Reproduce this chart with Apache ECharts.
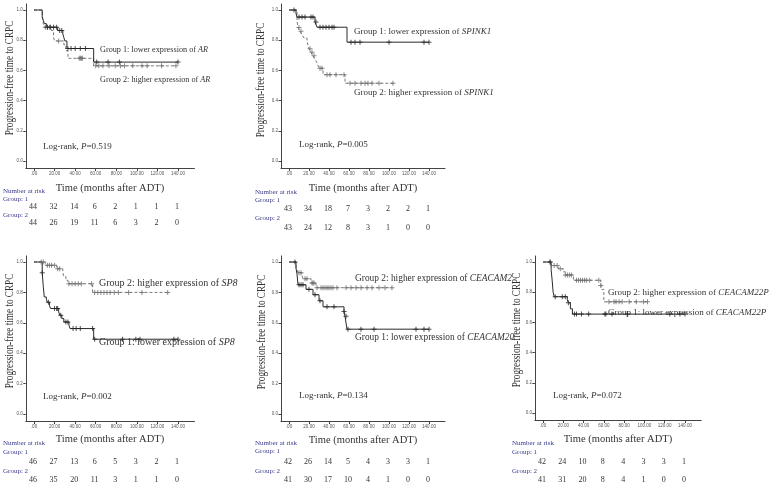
<!DOCTYPE html>
<html><head><meta charset="utf-8">
<script src="https://cdn.jsdelivr.net/npm/echarts@6/dist/echarts.min.js"></script>
<style>html,body{margin:0;padding:0;background:#fff}#c{width:770px;height:488px}</style>
</head><body><div id="c"></div>
<script>
// ---------- tick labels ----------
const xTickValues = [0, 20, 40, 60, 80, 100, 120, 140];
const xTickLabels = ['.00', '20.00', '40.00', '60.00', '80.00', '100.00', '120.00', '140.00'];
const yTickValues = [0, 0.2, 0.4, 0.6, 0.8, 1.0];
const yTickLabels = ['0.0', '0.2', '0.4', '0.6', '0.8', '1.0'];

const genes = ['AR', 'SPINK1', 'SP8', 'CEACAM20', 'CEACAM22P'];
const pValues = ['0.519', '0.005', '0.002', '0.134', '0.072'];

// ---------- Panel 1: AR ----------
const arG1Steps = [[0,1],[8,0.955],[9,0.932],[10,0.91],[12,0.886],[23,0.864],[28,0.841],[29,0.818],[30,0.795],[32,0.745],[58,0.655],[140,0.655]];
const arG1Censor = [13,16,19,22,25,27,33,36,40,45,50,61,72,83,140];
const arG2Steps = [[0,1],[8,0.955],[9,0.91],[10,0.886],[17,0.864],[19,0.818],[20,0.795],[29,0.77],[31,0.73],[33,0.68],[58,0.63],[138,0.63]];
const arG2Censor = [11,13,15,24,44,45,46,47,60,63,67,73,79,84,88,96,105,110,124,138];
const arRisk1 = [44,32,14,6,2,1,1,1];
const arRisk2 = [44,26,19,11,6,3,2,0];

// ---------- Panel 2: SPINK1 ----------
const spG1Steps = [[0,1],[7,0.977],[8,0.953],[26,0.92],[28,0.886],[58,0.787],[140,0.787]];
const spG1Censor = [5,10,13,16,22,24,27,31,34,37,40,43,45,62,66,71,100,135,140];
const spG2Steps = [[0,1],[8,0.93],[9,0.884],[11,0.86],[13,0.837],[15,0.814],[18,0.791],[19,0.768],[20,0.744],[22,0.72],[24,0.697],[26,0.674],[28,0.65],[30,0.614],[34,0.572],[56,0.515],[104,0.515]];
const spG2Censor = [10,12,21,23,25,31,33,38,41,47,55,61,66,72,76,79,83,90,104];
const spRisk1 = [43,34,18,7,3,2,2,1];
const spRisk2 = [43,24,12,8,3,1,0,0];

// ---------- Panel 3: SP8 ----------
const sp8G1Steps = [[0,1],[8,0.93],[9,0.84],[10,0.77],[12,0.755],[13,0.735],[15,0.715],[16,0.694],[24,0.672],[25,0.65],[27,0.628],[29,0.605],[34,0.583],[35,0.562],[58,0.492],[140,0.492]];
const sp8G1Censor = [8,14,20,22,23,26,31,33,38,41,45,57,59,86,99,103,136,140];
const sp8G2Steps = [[0,1],[11,0.978],[22,0.956],[28,0.93],[29,0.905],[31,0.88],[33,0.857],[57,0.80],[130,0.80]];
const sp8G2Censor = [7,9,13,15,17,20,23,25,34,37,40,43,46,56,59,62,65,68,71,74,78,82,92,105,130];
const sp8Risk1 = [46,27,13,6,5,3,2,1];
const sp8Risk2 = [46,35,20,11,3,1,1,0];

// ---------- Panel 4: CEACAM20 ----------
const c20G1Steps = [[0,1],[7,0.96],[8,0.92],[9,0.85],[17,0.82],[24,0.785],[30,0.745],[34,0.705],[55,0.675],[56,0.643],[58,0.558],[140,0.558]];
const c20G1Censor = [6,10,12,14,20,26,31,38,45,55,57,59,72,85,127,135,140];
const c20G2Steps = [[0,1],[7,0.96],[9,0.93],[13,0.91],[14,0.89],[22,0.862],[27,0.831],[103,0.831]];
const c20G2Censor = [10,12,16,18,23,24,25,28,32,34,36,38,40,42,44,48,57,62,67,72,78,83,90,96,103];
const c20Risk1 = [42,26,14,5,4,3,3,1];
const c20Risk2 = [41,30,17,10,4,1,0,0];

// ---------- Panel 5: CEACAM22P ----------
const c22G1Steps = [[0,1],[8,0.95],[9,0.88],[10,0.80],[11,0.77],[24,0.75],[25,0.73],[27,0.69],[29,0.655],[140,0.655]];
const c22G1Censor = [7,12,19,22,25,31,33,38,45,61,62,68,83,125,135,140];
const c22G2Steps = [[0,1],[8,0.976],[15,0.955],[20,0.935],[22,0.914],[30,0.879],[57,0.845],[58,0.818],[60,0.736],[103,0.736]];
const c22G2Censor = [7,11,14,17,22,24,26,28,33,35,37,39,41,43,46,55,57,65,70,72,75,78,85,92,99,103];
const c22Risk1 = [42,24,10,8,4,3,3,1];
const c22Risk2 = [41,31,20,8,4,1,0,0];

const panelData = [
  {g1: arG1Steps, c1: arG1Censor, g2: arG2Steps, c2: arG2Censor, r1: arRisk1, r2: arRisk2},
  {g1: spG1Steps, c1: spG1Censor, g2: spG2Steps, c2: spG2Censor, r1: spRisk1, r2: spRisk2},
  {g1: sp8G1Steps, c1: sp8G1Censor, g2: sp8G2Steps, c2: sp8G2Censor, r1: sp8Risk1, r2: sp8Risk2},
  {g1: c20G1Steps, c1: c20G1Censor, g2: c20G2Steps, c2: c20G2Censor, r1: c20Risk1, r2: c20Risk2},
  {g1: c22G1Steps, c1: c22G1Censor, g2: c22G2Steps, c2: c22G2Censor, r1: c22Risk1, r2: c22Risk2}
];

// ---------- layout (pixels) ----------
const layouts = [
  {x0:34, x140:178, y1:10, y0:161, title:[10,78], g1:[100,50], g2:[100,80], lr:[43,147], time:[110,188], nar:[3,191], gl1:199, r1:207, gl2:215, r2:223, gfs:8.2},
  {x0:289, x140:429, y1:10, y0:161, title:[261,80], g1:[354,32], g2:[354,93], lr:[299,145], time:[363,188], nar:[255,192], gl1:200, r1:209, gl2:218, r2:228, gfs:9},
  {x0:34, x140:178, y1:262, y0:414, title:[10,331], g1:[99,342], g2:[99,283], lr:[43,397], time:[110,439], nar:[3,443], gl1:452, r1:462, gl2:471, r2:480, gfs:10},
  {x0:289, x140:429, y1:262, y0:414, title:[262,332], g1:[355,338], g2:[355,279], lr:[299,396], time:[363,440], nar:[255,443], gl1:451, r1:462, gl2:471, r2:480, gfs:9.4, clip:516},
  {x0:543, x140:685, y1:262, y0:413, title:[517,330], g1:[608,313], g2:[608,293], lr:[553,396], time:[618,439], nar:[512,443], gl1:452, r1:462, gl2:471, r2:480, gfs:9}
];
const XMIN = -8, XMAX = 156, YMIN = -0.05, YMAX = 1.04;
const SERIF = 'Liberation Serif';
const SANS = 'Liberation Sans';
const PLUS = 'path://M2,0H3V2H5V3H3V5H2V3H0V2H2Z';

function survAt(steps, t) {
  let s = 1;
  for (const [tt, ss] of steps) { if (tt <= t) s = ss; else break; }
  return s;
}

const grids = [], xAxes = [], yAxes = [], series = [], graphics = [];

layouts.forEach((L, i) => {
  const sx = (L.x140 - L.x0) / 140;
  const sy = L.y0 - L.y1;
  grids.push({
    left: L.x0 + XMIN * sx, width: (XMAX - XMIN) * sx,
    top: L.y1 - (YMAX - 1) * sy, height: (YMAX - YMIN) * sy
  });
  xAxes.push({
    type: 'value', gridIndex: i, min: XMIN, max: XMAX,
    axisLine: {show: true, onZero: false, lineStyle: {color: '#444', width: 1}},
    axisTick: {show: true, customValues: xTickValues, length: 2.5, lineStyle: {color: '#444'}},
    axisLabel: {customValues: xTickValues, formatter: v => xTickLabels[xTickValues.indexOf(v)],
      fontSize: 4.5, color: '#555', fontFamily: SANS, margin: 3},
    splitLine: {show: false}
  });
  yAxes.push({
    type: 'value', gridIndex: i, min: YMIN, max: YMAX,
    axisLine: {show: true, onZero: false, lineStyle: {color: '#444', width: 1}},
    axisTick: {show: true, customValues: yTickValues, length: 2.5, lineStyle: {color: '#444'}},
    axisLabel: {customValues: yTickValues, formatter: v => yTickLabels[yTickValues.findIndex(t => Math.abs(t - v) < 1e-6)],
      fontSize: 4.5, color: '#555', fontFamily: SANS, margin: 3},
    splitLine: {show: false}
  });
  const D = panelData[i];
  series.push({
    type: 'line', xAxisIndex: i, yAxisIndex: i, data: D.g2, step: 'end', showSymbol: false,
    lineStyle: {color: '#7a7a7a', width: 1, type: [3, 2]}, silent: true, z: 2
  });
  series.push({
    type: 'line', xAxisIndex: i, yAxisIndex: i, data: D.g1, step: 'end', showSymbol: false,
    lineStyle: {color: '#2a2a2a', width: 1}, silent: true, z: 3
  });
  series.push({
    type: 'scatter', xAxisIndex: i, yAxisIndex: i, symbol: PLUS, symbolSize: 5,
    data: D.c2.map(t => [t, survAt(D.g2, t)]),
    itemStyle: {color: '#6a6a6a'}, silent: true, z: 4
  });
  series.push({
    type: 'scatter', xAxisIndex: i, yAxisIndex: i, symbol: PLUS, symbolSize: 5,
    data: D.c1.map(t => [t, survAt(D.g1, t)]),
    itemStyle: {color: '#222'}, silent: true, z: 5
  });

  // y-axis title
  graphics.push({type: 'text', x: L.title[0], y: L.title[1], rotation: Math.PI / 2, scaleX: 0.8,
    style: {text: 'Progression-free time to CRPC', fontFamily: SERIF, fontSize: 11.5, fill: '#333',
      align: 'center', verticalAlign: 'middle'}});
  // x-axis title
  graphics.push({type: 'text', x: L.time[0], y: L.time[1],
    style: {text: 'Time (months after ADT)', fontFamily: SERIF, fontSize: 10.5, fill: '#333',
      align: 'center', verticalAlign: 'middle'}});
  // group labels
  const rich = {i: {fontStyle: 'italic', fontFamily: SERIF, fontSize: L.gfs, fill: '#333'}};
  const gl = [['Group 1: lower expression of ', L.g1], ['Group 2: higher expression of ', L.g2]];
  gl.forEach(([txt, pos]) => {
    const st = {text: txt + '{i|' + genes[i] + '}', rich: rich, fontFamily: SERIF, fontSize: L.gfs, fill: '#333',
      align: 'left', verticalAlign: 'middle'};
    if (L.clip) { st.width = L.clip - pos[0]; st.overflow = 'truncate'; st.ellipsis = ''; }
    graphics.push({type: 'text', x: pos[0], y: pos[1], style: st});
  });
  // log-rank
  graphics.push({type: 'text', x: L.lr[0], y: L.lr[1],
    style: {text: 'Log-rank, {i|P}=' + pValues[i], rich: {i: {fontStyle: 'italic', fontFamily: SERIF, fontSize: 9, fill: '#333'}},
      fontFamily: SERIF, fontSize: 9, fill: '#333', align: 'left', verticalAlign: 'middle'}});
  // number at risk
  const navy = '#3b3b8f';
  graphics.push({type: 'text', x: L.nar[0], y: L.nar[1], style: {text: 'Number at risk', fontFamily: SERIF, fontSize: 7, fill: navy, verticalAlign: 'middle'}});
  graphics.push({type: 'text', x: L.nar[0], y: L.gl1, style: {text: 'Group: 1', fontFamily: SERIF, fontSize: 7, fill: navy, verticalAlign: 'middle'}});
  graphics.push({type: 'text', x: L.nar[0], y: L.gl2, style: {text: 'Group: 2', fontFamily: SERIF, fontSize: 7, fill: navy, verticalAlign: 'middle'}});
  xTickValues.forEach((tv, k) => {
    const px = L.x0 + tv * sx - 1;
    graphics.push({type: 'text', x: px, y: L.r1, style: {text: String(D.r1[k]), fontFamily: SERIF, fontSize: 8, fill: '#333', align: 'center', verticalAlign: 'middle'}});
    graphics.push({type: 'text', x: px, y: L.r2, style: {text: String(D.r2[k]), fontFamily: SERIF, fontSize: 8, fill: '#333', align: 'center', verticalAlign: 'middle'}});
  });
});

const chart = echarts.init(document.getElementById('c'));
chart.setOption({
  animation: false,
  backgroundColor: '#fff',
  grid: grids, xAxis: xAxes, yAxis: yAxes, series: series,
  graphic: graphics
});
</script>
</body></html>
